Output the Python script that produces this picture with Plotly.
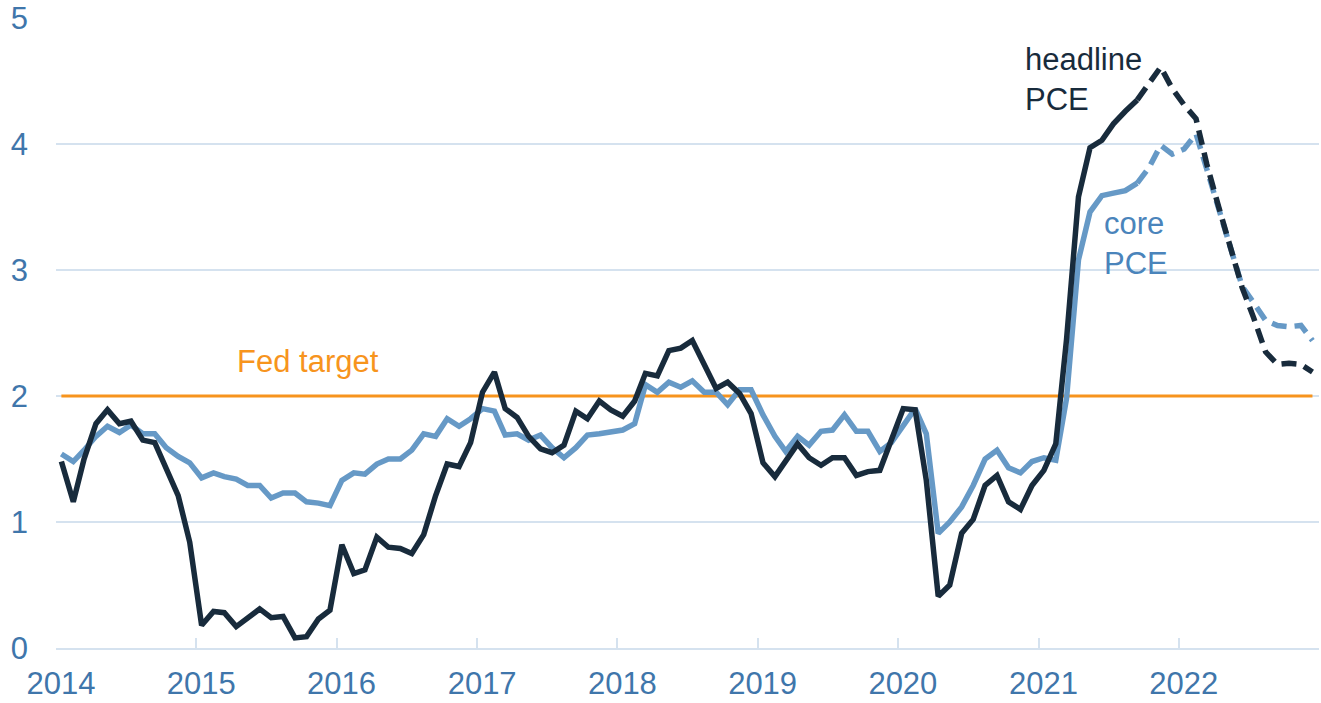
import pandas as pd
import plotly.graph_objects as go

# Monthly observations, Jan 2014 - Dec 2022 (plotted mid-month)
dates = pd.date_range("2014-01-01", periods=108, freq="MS") + pd.Timedelta(days=14)

headline = [
    1.48, 1.16, 1.50, 1.78, 1.89, 1.78, 1.80, 1.65, 1.63, 1.43, 1.21, 0.84,
    0.18, 0.29, 0.28, 0.17, 0.24, 0.31, 0.24, 0.25, 0.08, 0.09, 0.23, 0.30,
    0.82, 0.59, 0.62, 0.88, 0.80, 0.79, 0.75, 0.90, 1.21, 1.46, 1.44, 1.63,
    2.03, 2.19, 1.90, 1.83, 1.68, 1.58, 1.55, 1.61, 1.88, 1.82, 1.96, 1.89,
    1.84, 1.96, 2.18, 2.16, 2.36, 2.38, 2.44, 2.26, 2.06, 2.11, 2.02, 1.86,
    1.47, 1.36, 1.49, 1.62, 1.51, 1.45, 1.51, 1.51, 1.37, 1.40, 1.41, 1.66,
    1.90, 1.89, 1.33, 0.41, 0.50, 0.91, 1.02, 1.29, 1.37, 1.16, 1.10, 1.29,
    1.41, 1.62, 2.45, 3.58, 3.97, 4.03, 4.16, 4.26, 4.35, 4.47, 4.61, 4.44,
    4.31, 4.20, 3.84, 3.50, 3.19, 2.86, 2.62, 2.35, 2.25, 2.26, 2.25, 2.19,
]

core = [
    1.54, 1.48, 1.57, 1.68, 1.76, 1.71, 1.77, 1.70, 1.70, 1.59, 1.52, 1.47,
    1.35, 1.39, 1.36, 1.34, 1.29, 1.29, 1.19, 1.23, 1.23, 1.16, 1.15, 1.13,
    1.33, 1.39, 1.38, 1.46, 1.50, 1.50, 1.57, 1.70, 1.68, 1.82, 1.76, 1.82,
    1.90, 1.88, 1.69, 1.70, 1.65, 1.69, 1.59, 1.51, 1.59, 1.69, 1.70, 1.72,
    1.73, 1.78, 2.09, 2.03, 2.11, 2.07, 2.12, 2.03, 2.03, 1.93, 2.05, 2.05,
    1.85, 1.68, 1.56, 1.68, 1.61, 1.72, 1.73, 1.85, 1.72, 1.72, 1.56, 1.63,
    1.77, 1.90, 1.70, 0.91, 1.00, 1.12, 1.29, 1.50, 1.57, 1.43, 1.39, 1.48,
    1.51, 1.49, 1.98, 3.08, 3.46, 3.59, 3.61, 3.63, 3.69, 3.81, 3.99, 3.92,
    3.96, 4.08, 3.80, 3.48, 3.17, 2.87, 2.74, 2.60, 2.56, 2.55, 2.56, 2.44,
]

FED_TARGET = 2.0
LAST_SOLID = 92  # index of Sep 2021: solid up to here, dashed afterwards

year_ticks = pd.date_range("2014-01-01", "2023-01-01", freq="YS")
year_labels = ["2014", "2015", "2016", "2017", "2018", "2019", "2020", "2021", "2022", ""]

NAVY = "#182b3c"
STEEL = "#6699c6"
ORANGE = "#f7941d"
TICKBLUE = "#3f76ab"
GRID = "#d5e2ef"
FONT = "Liberation Sans, Arial, sans-serif"
LW = 5.5

fig = go.Figure()

fig.add_trace(go.Scatter(
    x=[dates[0], dates[-1]], y=[FED_TARGET, FED_TARGET], mode="lines",
    line=dict(color=ORANGE, width=3), hoverinfo="skip"))

fig.add_trace(go.Scatter(
    x=dates[:LAST_SOLID + 1], y=core[:LAST_SOLID + 1], mode="lines",
    line=dict(color=STEEL, width=LW)))
fig.add_trace(go.Scatter(
    x=dates[LAST_SOLID:], y=core[LAST_SOLID:], mode="lines",
    line=dict(color=STEEL, width=LW, dash="15px,8px")))

fig.add_trace(go.Scatter(
    x=dates[:LAST_SOLID + 1], y=headline[:LAST_SOLID + 1], mode="lines",
    line=dict(color=NAVY, width=LW)))
fig.add_trace(go.Scatter(
    x=dates[LAST_SOLID:], y=headline[LAST_SOLID:], mode="lines",
    line=dict(color=NAVY, width=LW, dash="15px,8px")))

fig.add_annotation(x="2020-11-21", y=4.51, text="headline<br>PCE", showarrow=False,
                   xanchor="left", yanchor="middle", align="left",
                   font=dict(family=FONT, size=31, color=NAVY))
fig.add_annotation(x="2021-06-15", y=3.21, text="core<br>PCE", showarrow=False,
                   xanchor="left", yanchor="middle", align="left",
                   font=dict(family=FONT, size=31, color="#4a84bb"))
fig.add_annotation(x="2015-10-20", y=2.27, text="Fed target", showarrow=False,
                   xanchor="center", yanchor="middle",
                   font=dict(family=FONT, size=31, color=ORANGE))

fig.update_layout(
    width=1321, height=703,
    margin=dict(l=56, r=2, t=18, b=55),
    paper_bgcolor="white", plot_bgcolor="white",
    showlegend=False,
    font=dict(family=FONT, size=31, color=TICKBLUE),
)
fig.update_xaxes(
    type="date", range=["2014-01-01", "2023-01-01"],
    tickmode="array", tickvals=year_ticks, ticktext=year_labels,
    ticks="inside", ticklen=10, tickwidth=2, tickcolor=GRID,
    showline=True, linecolor=GRID, linewidth=2, showgrid=False,
    zeroline=False, ticklabelshift=5, ticklabelstandoff=7, automargin=False,
    tickfont=dict(family=FONT, size=31, color=TICKBLUE),
)
fig.update_yaxes(
    range=[0, 5], tickvals=[0, 1, 2, 3, 4, 5], ticktext=["0", "1", "2", "3", "4", "5"],
    showgrid=True, gridcolor=GRID, gridwidth=2, zeroline=False, showline=False,
    ticks="", automargin=False, ticklabelstandoff=27,
    tickfont=dict(family=FONT, size=31, color=TICKBLUE),
)

fig.write_html("out.html", config={"displayModeBar": False},
               post_script="document.body.style.margin='0';document.body.style.overflow='hidden';")
